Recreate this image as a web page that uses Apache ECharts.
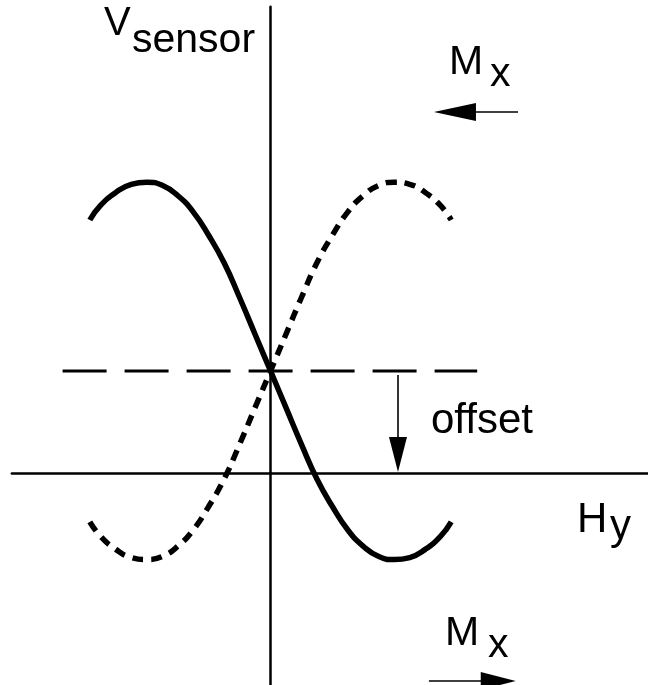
<!DOCTYPE html>
<html>
<head>
<meta charset="utf-8">
<title>V sensor - Hy</title>
<style>
html,body{margin:0;padding:0;background:#fff;}
#app_chart{width:648px;height:685px;}
</style>
</head>
<body>
<div id="app_chart"></div>
<script src="https://cdn.jsdelivr.net/npm/echarts@6/dist/echarts.min.js"></script>
<script>
// Hy 取值（任意单位，峰值在 ±1）
var hValues = [-1.46, -1.375, -1.25, -1.125, -1.0, -0.875, -0.75, -0.625, -0.5, -0.375, -0.25, -0.125, 0,
	0.125, 0.25, 0.375, 0.5, 0.625, 0.75, 0.875, 1.0, 1.125, 1.25, 1.375, 1.46];
// 实线曲线
var vSolid = [2.48, 2.62, 2.75, 2.83, 2.85, 2.82, 2.72, 2.56, 2.33, 2.06, 1.72, 1.36, 1.0,
	0.64, 0.28, -0.06, -0.33, -0.56, -0.72, -0.82, -0.85, -0.83, -0.75, -0.62, -0.48];
// 点线曲线
var vDotted = [-0.48, -0.62, -0.75, -0.83, -0.85, -0.82, -0.72, -0.56, -0.33, -0.06, 0.28, 0.64, 1.0,
	1.36, 1.72, 2.06, 2.33, 2.56, 2.72, 2.82, 2.85, 2.83, 2.75, 2.62, 2.48];
// offset 虚线
var offsetLevel = 1.0;
var offsetSpan = [-1.68, 1.67];
// 箭头 [起点, 终点]
var arrowTop = [[2.0, 3.54], [1.49, 3.54]];
var arrowOffset = [[1.03, 0.96], [1.03, 0.18]];
var arrowBottom = [[1.28, -2.04], [1.84, -2.04]];
// 坐标轴范围
var xRange = [-2.09, 3.05];
var yRange = [-2.08, 4.57];

(function() {

	var SENSORCHART = function(){
		this.originX = 271;
		this.originY = 473;
		this.pxX = 124;
		this.pxY = 102;
		this.font = '"Liberation Sans", Arial, Helvetica, sans-serif';
		return this;
	}
	SENSORCHART.prototype = {
		init: function(){
			var myChart = echarts.init(document.getElementById('app_chart'));
			myChart.setOption(this.getOption());
		},
		pairs: function(ys){
			var out = [];
			for (var i = 0; i < hValues.length; i++) {
				out.push([hValues[i], ys[i]]);
			}
			return out;
		},
		arrow: function(a, size){
			return [
				{coord: a[0], symbol: 'none'},
				{coord: a[1], symbol: 'triangle', symbolSize: size}
			];
		},
		text: function(str, x, y, size){
			return {
				type: 'text',
				x: x,
				y: y,
				silent: true,
				style: {
					text: str,
					fill: '#000',
					font: size + 'px ' + this.font,
					align: 'left',
					verticalAlign: 'middle'
				}
			};
		},
		getOption: function(){
			var _this = this;
			var gridLeft = _this.originX + xRange[0] * _this.pxX;
			var gridTop = _this.originY - yRange[1] * _this.pxY;
			var axisLine = {
				show: true,
				onZero: true,
				lineStyle: {color: '#000', width: 2.5}
			};
			return {
				animation: false,
				backgroundColor: '#fff',
				grid: {
					left: gridLeft,
					top: gridTop,
					width: (xRange[1] - xRange[0]) * _this.pxX,
					height: (yRange[1] - yRange[0]) * _this.pxY,
					containLabel: false
				},
				xAxis: {
					type: 'value',
					min: xRange[0],
					max: xRange[1],
					axisLine: axisLine,
					axisTick: {show: false},
					axisLabel: {show: false},
					splitLine: {show: false}
				},
				yAxis: {
					type: 'value',
					min: yRange[0],
					max: yRange[1],
					axisLine: axisLine,
					axisTick: {show: false},
					axisLabel: {show: false},
					splitLine: {show: false}
				},
				graphic: [
					_this.text('V', 104, 24, 40),
					_this.text('sensor', 132, 41, 41),
					_this.text('M', 449, 63, 41),
					_this.text('x', 490, 75, 41),
					_this.text('offset', 431, 421, 42),
					_this.text('H', 577, 520, 42),
					_this.text('y', 610, 527, 42),
					_this.text('M', 445, 634, 41),
					_this.text('x', 488, 646, 41)
				],
				series: [{
					type: 'line',
					name: 'offset',
					data: [[offsetSpan[0], offsetLevel], [offsetSpan[1], offsetLevel]],
					symbol: 'none',
					lineStyle: {color: '#000', width: 3, type: [44, 18]},
					z: 2,
					markLine: {
						silent: true,
						label: {show: false},
						lineStyle: {color: '#000', width: 1.6, type: 'solid'},
						data: [
							_this.arrow(arrowTop, [18, 42]),
							_this.arrow(arrowOffset, [18, 35]),
							_this.arrow(arrowBottom, [18, 35])
						]
					}
				}, {
					type: 'line',
					name: 'solid',
					data: _this.pairs(vSolid),
					smooth: true,
					symbol: 'none',
					lineStyle: {color: '#000', width: 5.5},
					z: 3
				}, {
					type: 'line',
					name: 'dotted',
					data: _this.pairs(vDotted),
					smooth: true,
					symbol: 'none',
					lineStyle: {color: '#000', width: 5.5, type: [11, 8], cap: 'butt'},
					z: 3
				}]
			};
		}
	}

	var chart = new SENSORCHART();
	chart.init();
})();
</script>
</body>
</html>
